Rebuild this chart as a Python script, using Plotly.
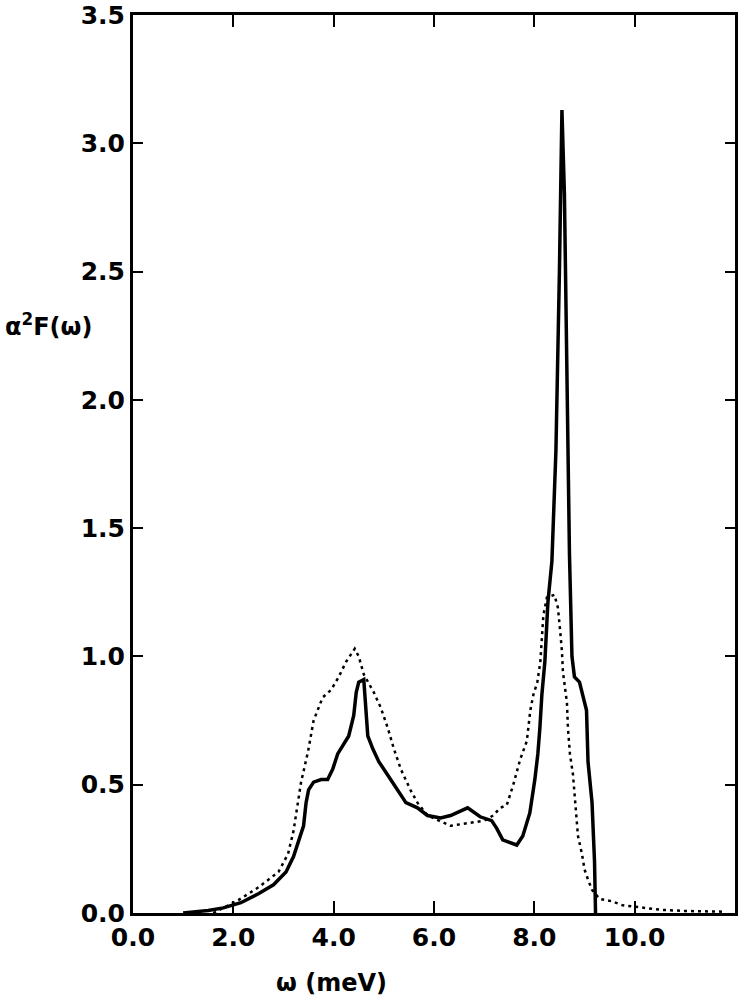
import plotly.graph_objects as go

# Solid curve: alpha^2 F(omega)
solid_w = [1.0, 1.5, 1.8, 2.15, 2.5, 2.8, 3.05, 3.2, 3.3, 3.4, 3.45, 3.5, 3.6, 3.75, 3.88,
           3.98, 4.08, 4.2, 4.3, 4.4, 4.45, 4.5, 4.6, 4.64, 4.68, 4.78, 4.9, 5.07, 5.28,
           5.44, 5.67, 5.87, 6.13, 6.33, 6.67, 6.92, 7.15, 7.25, 7.37, 7.51, 7.65, 7.77,
           7.91, 8.01, 8.07, 8.11, 8.15, 8.21, 8.27, 8.35, 8.43, 8.5, 8.55, 8.6, 8.65,
           8.7, 8.75, 8.8, 8.9, 8.97, 9.04, 9.07, 9.15, 9.2, 9.22]
solid_v = [0.0, 0.01, 0.02, 0.04, 0.075, 0.11, 0.16, 0.22, 0.28, 0.34, 0.43, 0.48, 0.51, 0.52, 0.52,
           0.56, 0.62, 0.66, 0.69, 0.77, 0.86, 0.90, 0.91, 0.80, 0.69, 0.64, 0.59, 0.54, 0.48,
           0.43, 0.41, 0.38, 0.37, 0.38, 0.41, 0.375, 0.36, 0.33, 0.285, 0.275, 0.265, 0.30,
           0.39, 0.52, 0.62, 0.72, 0.85, 0.98, 1.21, 1.37, 1.8, 2.5, 3.13, 2.8, 2.0,
           1.4, 1.0, 0.92, 0.90, 0.85, 0.79, 0.59, 0.43, 0.2, 0.0]

# Dotted curve
dot_w = [1.6, 2.1, 2.5, 2.9, 3.09, 3.2, 3.35, 3.49, 3.6, 3.78, 3.95, 4.1, 4.25, 4.38, 4.42,
         4.5, 4.6, 4.8, 4.94, 5.08, 5.2, 5.34, 5.53, 5.67, 5.87, 6.1, 6.33, 6.67, 7.0, 7.18,
         7.32, 7.45, 7.58, 7.72, 7.85, 7.92, 7.98, 8.06, 8.12, 8.18, 8.25, 8.4, 8.47, 8.51,
         8.55, 8.57, 8.65, 8.67, 8.71, 8.77, 8.83, 8.87, 8.95, 9.0, 9.07, 9.15, 9.3, 9.56,
         9.76, 10.1, 10.55, 11.0, 11.8]
dot_v = [0.0, 0.05, 0.10, 0.16, 0.23, 0.32, 0.51, 0.63, 0.75, 0.84, 0.87, 0.92, 0.98, 1.02, 1.03,
         1.00, 0.93, 0.86, 0.80, 0.72, 0.64, 0.56, 0.48, 0.43, 0.38, 0.36, 0.34, 0.35, 0.36, 0.38,
         0.41, 0.42, 0.50, 0.60, 0.67, 0.79, 0.85, 0.90, 0.98, 1.16, 1.23, 1.24, 1.19, 1.11,
         1.02, 0.94, 0.82, 0.72, 0.62, 0.54, 0.41, 0.30, 0.23, 0.17, 0.13, 0.09, 0.055, 0.045,
         0.03, 0.023, 0.012, 0.008, 0.005]

x_ticks = [0, 2, 4, 6, 8, 10]
x_labels = ["0.0", "2.0", "4.0", "6.0", "8.0", "10.0"]
y_ticks = [0, 0.5, 1.0, 1.5, 2.0, 2.5, 3.0, 3.5]
y_labels = ["0.0", "0.5", "1.0", "1.5", "2.0", "2.5", "3.0", "3.5"]

fig = go.Figure()
fig.add_trace(go.Scatter(x=dot_w, y=dot_v, mode="lines",
                         line=dict(color="black", width=2.5, dash="3px,4px"),
                         showlegend=False))
fig.add_trace(go.Scatter(x=solid_w, y=solid_v, mode="lines",
                         line=dict(color="black", width=3.5),
                         showlegend=False))

font = dict(family="DejaVu Sans", size=25, color="black", weight="bold")
title_font = dict(family="DejaVu Sans", size=24, color="black", weight="bold")

fig.update_layout(
    width=747, height=1006,
    margin=dict(l=133, r=12, t=15, b=93, autoexpand=False),
    plot_bgcolor="white", paper_bgcolor="white",
    font=font,
    xaxis=dict(range=[0, 12], tickvals=x_ticks, ticktext=x_labels, automargin=False,
               showline=True, linewidth=3, linecolor="black", mirror="ticks",
               ticks="inside", ticklen=12, tickwidth=2, tickcolor="black",
               showgrid=False, zeroline=False, tickfont=font),
    yaxis=dict(range=[0, 3.5], tickvals=y_ticks, ticktext=y_labels, automargin=False,
               showline=True, linewidth=3, linecolor="black", mirror="ticks",
               ticks="inside", ticklen=10, tickwidth=2, tickcolor="black",
               showgrid=False, zeroline=False, tickfont=font),
    annotations=[
        dict(text="α<sup>2</sup>F(ω)", xref="paper", yref="paper", x=-0.14, y=0.655,
             xanchor="center", yanchor="middle", showarrow=False, font=title_font),
        dict(text="ω (meV)", xref="paper", yref="paper", x=0.33, y=-0.078,
             xanchor="center", yanchor="middle", showarrow=False, font=title_font),
    ],
)

fig.write_html("out.html", config={"displayModeBar": False},
               post_script="document.body.style.margin='0';document.body.style.overflow='hidden';")
